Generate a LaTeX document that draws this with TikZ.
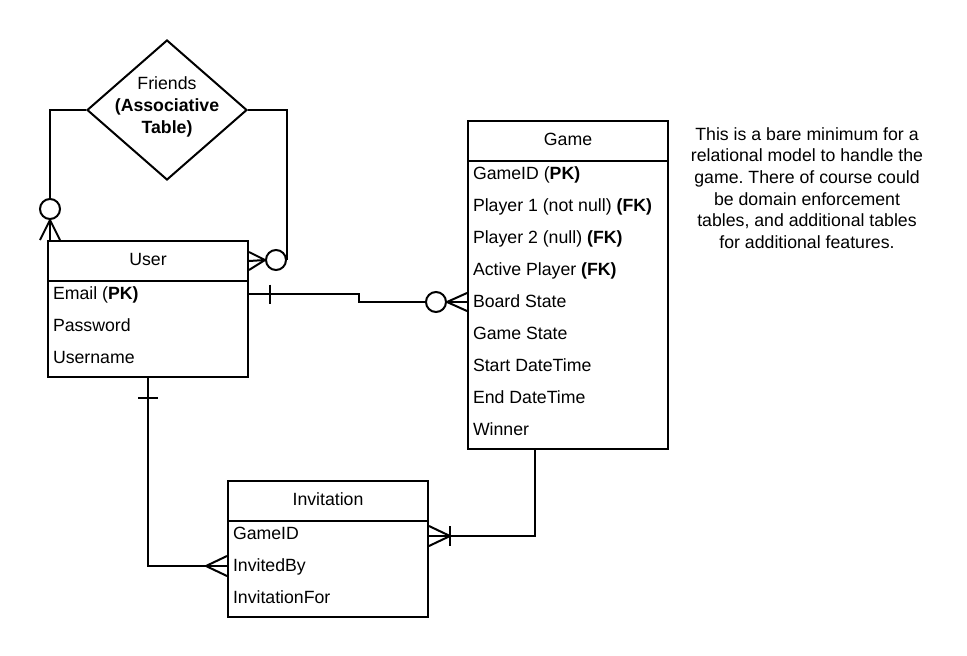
\documentclass[tikz,border=0pt]{standalone}
\usepackage{fontspec}
\setmainfont{Liberation Sans}
\usetikzlibrary{shapes.geometric,calc}
\frenchspacing

\begin{document}
\begin{tikzpicture}[
    x=1pt, y=-1pt,
    line width=2pt,
    font=\fontsize{17.7}{21.6}\selectfont,
    head/.style={draw, rectangle, minimum width=200pt, minimum height=40pt, inner sep=0pt,
                 text height=12.8pt, text depth=4.1pt, anchor=north west},
    body/.style={draw, rectangle, minimum width=200pt, inner sep=0pt, anchor=north west},
    field/.style={anchor=west, inner sep=0pt, text height=14.8pt, text depth=3.6pt},
    ring/.style={circle, draw, fill=white, minimum size=20pt, inner sep=0pt}
]
\useasboundingbox (0,0) rectangle (967,656);

% Associative table
\node[diamond, draw, minimum width=160pt, minimum height=140pt, inner sep=0pt,
      label={[align=center, yshift=3pt]center:Friends\\\textbf{(Associative}\\\textbf{Table)}}]
      (friends) at (167,110) {};

% User entity
\node[head] (user) at (47,240) {User};
\node[body, minimum height=96pt] (userbody) at (47,280) {};
\node[field] (email) at (52,294) {Email (\textbf{PK)}};
\node[field] (password) at (52,326) {Password};
\node[field] (username) at (52,358) {Username};

% Game entity
\node[head] (game) at (467,120) {Game};
\node[body, minimum height=288pt] (gamebody) at (467,160) {};
\node[field] (gameid) at (472,174) {GameID (\textbf{PK)}};
\node[field] (player1) at (472,206) {Player 1 (not null) \textbf{(FK)}};
\node[field] (player2) at (472,238) {Player 2 (null) \textbf{(FK)}};
\node[field] (active) at (472,270) {Active Player \textbf{(FK)}};
\node[field] (board) at (472,302) {Board State};
\node[field] (gstate) at (472,334) {Game State};
\node[field] (start) at (472,366) {Start DateTime};
\node[field] (end) at (472,398) {End DateTime};
\node[field] (winner) at (472,430) {Winner};

% Invitation entity
\node[head] (invite) at (227,480) {Invitation};
\node[body, minimum height=96pt] (invitebody) at (227,520) {};
\node[field] (invgame) at (232,534) {GameID};
\node[field] (invitedby) at (232,566) {InvitedBy};
\node[field] (invfor) at (232,598) {InvitationFor};

% Note
\node[align=center] (note) at (807,188) {This is a bare minimum for a\\relational model to handle the\\game. There of course could\\be domain enforcement\\tables, and additional tables\\for additional features.};

% Friends -- User (left, zero or many)
\node[ring] (ringL) at (50,209) {};
\draw (friends.west) -| (ringL.north);
\draw (ringL.south) -- (ringL.south |- user.north);
\draw (ringL.south) -- ($(ringL.south |- user.north)+(-10,0)$);
\draw (ringL.south) -- ($(ringL.south |- user.north)+(10,0)$);

% Friends -- User (right, zero or many)
\node[ring] (ringR) at (276,260) {};
\draw (friends.east) -| (ringR.east);
\draw (ringR.west) -- (user.east);
\draw (ringR.west) -- ($(user.east)+(0,-9)$);
\draw (ringR.west) -- ($(user.east)+(0,9)$);

% User -- Game (one to zero or many)
\node[ring] (ringG) at (436,302) {};
\draw (email -| userbody.east) -- ++(110,0) |- (ringG.west);
\draw ($(email -| userbody.east)+(21,-9.5)$) -- ++(0,19);
\draw (ringG.east) -- (board -| gamebody.west);
\draw (ringG.east) -- ($(board -| gamebody.west)+(0,-9)$);
\draw (ringG.east) -- ($(board -| gamebody.west)+(0,9)$);

% User -- Invitation (one to many)
\coordinate (crowU) at ($(invitedby -| invitebody.west)+(-21,0)$);
\draw (userbody.south) |- (invitedby -| invitebody.west);
\draw ($(userbody.south)+(-10,20)$) -- ++(20,0);
\draw (crowU) -- ($(invitedby -| invitebody.west)+(0,-10)$);
\draw (crowU) -- ($(invitedby -| invitebody.west)+(0,10)$);

% Game -- Invitation (one to one or many)
\coordinate (crowG) at ($(invitebody.east |- 0,536)+(21,0)$);
\draw ([xshift=-33pt]gamebody.south) |- (invitebody.east |- crowG);
\draw ($(crowG)+(0,-10)$) -- ++(0,20);
\draw (crowG) -- ($(invitebody.east |- crowG)+(0,-10)$);
\draw (crowG) -- ($(invitebody.east |- crowG)+(0,10)$);

\end{tikzpicture}
\end{document}
